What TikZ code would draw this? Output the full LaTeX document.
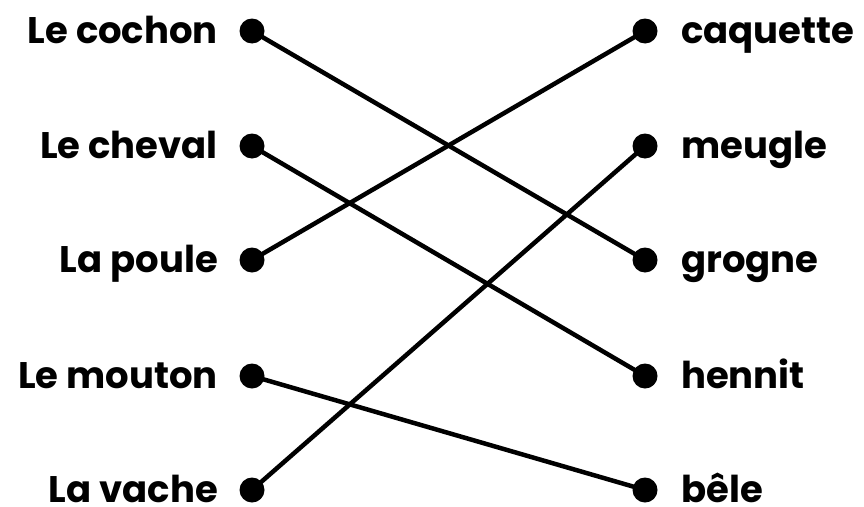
\documentclass[tikz,border=0pt]{standalone}
\usepackage{fontspec}
\setmainfont{Poppins}[UprightFont=* Bold]
\begin{document}
\begin{tikzpicture}[x=1pt,y=-1pt,
  dot/.style={circle,fill=black,inner sep=0pt,minimum size=25pt},
  lbl/.style={font=\fontsize{37}{40}\selectfont,inner sep=0pt},
  link/.style={line width=4.5pt}]
\useasboundingbox (0,0) rectangle (864,506);
\foreach \n/\t/\y in {1/Le cochon/31,2/Le cheval/146,3/La poule/260,4/Le mouton/376,5/La vache/490}{
  \node[dot] (l\n) at (252,\y) {};
  \node[lbl,anchor=base east] (lt\n) at (218,\y+12) {\t};
}
\foreach \n/\t/\y in {1/caquette/31,2/meugle/146,3/grogne/260,4/hennit/376,5/bêle/490}{
  \node[dot] (r\n) at (645,\y) {};
  \node[lbl,anchor=base west] (rt\n) at (681,\y+12) {\t};
}
\draw[link] (l1.center) -- (r3.center);
\draw[link] (l2.center) -- (r4.center);
\draw[link] (l3.center) -- (r1.center);
\draw[link] (l4.center) -- (r5.center);
\draw[link] (l5.center) -- (r2.center);
\end{tikzpicture}
\end{document}
